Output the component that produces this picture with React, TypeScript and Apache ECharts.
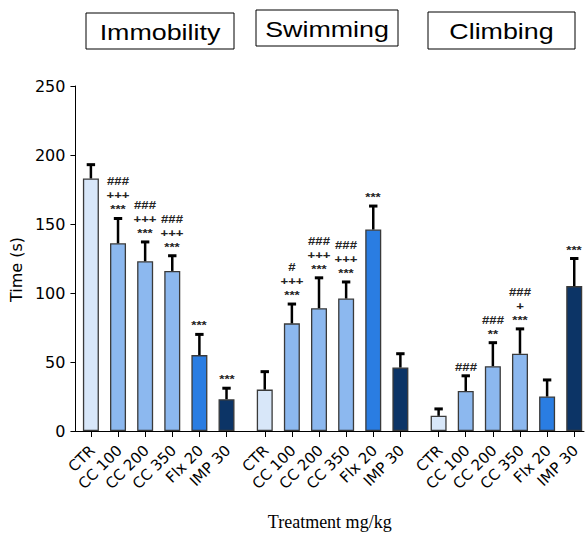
import React, { useEffect, useRef } from "react";
import * as echarts from "echarts";

// ---- data ----
const categories = ["CTR", "CC 100", "CC 200", "CC 350", "Flx 20", "IMP 30"];
const tests = ["Immobility", "Swimming", "Climbing"];

const immobility = [183, 136, 123, 116, 55, 23];
const immobilityErr = [10, 18, 14, 11, 15, 8];
const immobilitySig = [[], ["###", "+++", "***"], ["###", "+++", "***"], ["###", "+++", "***"], ["***"], ["***"]];

const swimming = [30, 78, 89, 96, 146, 46];
const swimmingErr = [13, 14, 22, 12, 17, 10];
const swimmingSig = [[], ["#", "+++", "***"], ["###", "+++", "***"], ["###", "+++", "***"], ["***"], []];

const climbing = [11, 29, 47, 56, 25, 105];
const climbingErr = [5, 11, 17, 18, 12, 20];
const climbingSig = [[], ["###"], ["###", "**"], ["###", "+", "***"], [], ["***"]];

const yTickMin = 0;
const yTickMax = 250;
const yTickStep = 50;

// ---- styling ----
const barColors = ["#d8e7f9", "#8cb8ef", "#8cb8ef", "#8cb8ef", "#2a7de2", "#0c3466"];
const GROUP_STEP = 6.41;
const LABEL_SHIFT = 0.05;

const groupValues = [immobility, swimming, climbing];
const groupErrs = [immobilityErr, swimmingErr, climbingErr];
const groupSigs = [immobilitySig, swimmingSig, climbingSig];

const positions: number[] = [];
const barData: any[] = [];
const errData: number[][] = [];
const sigs: string[][] = [];
groupValues.forEach((vals, g) => {
  vals.forEach((v, i) => {
    const x = i + g * GROUP_STEP;
    positions.push(x);
    barData.push({ value: [x, v], itemStyle: { color: barColors[i] } });
    errData.push([x, v, groupErrs[g][i], sigs.length]);
    sigs.push(groupSigs[g][i]);
  });
});
const labelPositions = positions.map((p) => p + LABEL_SHIFT);

const labelFor = (v: number) => {
  const idx = labelPositions.findIndex((p) => Math.abs(p - v) < 0.01);
  return idx >= 0 ? categories[idx % categories.length] : "";
};

const headerBoxes = [
  { x: 86, y: 13, w: 148, h: 36 },
  { x: 256, y: 10, w: 142, h: 36 },
  { x: 428, y: 12, w: 147, h: 37 },
];

export default function App() {
  const ref = useRef<HTMLDivElement>(null);
  useEffect(() => {
    if (!ref.current) return;
    const chart = echarts.init(ref.current, undefined, { renderer: "svg" });
    const graphics: any[] = [];
    tests.forEach((t, k) => {
      const b = headerBoxes[k];
      graphics.push({
        type: "rect",
        shape: { x: b.x, y: b.y, width: b.w, height: b.h },
        style: { fill: "#fff", stroke: "#000", lineWidth: 1 },
      });
      graphics.push({
        type: "text",
        x: b.x + b.w / 2,
        y: b.y + b.h / 2 + 1,
        scaleX: 1.22,
        style: {
          text: t,
          x: 0,
          y: 0,
          align: "center",
          verticalAlign: "middle",
          fontSize: 22,
          fontFamily: "Liberation Sans",
          fill: "#000",
        },
      });
    });

    chart.setOption({
      animation: false,
      backgroundColor: "#fff",
      grid: { left: 72, right: 3, top: 86, bottom: 107 },
      graphic: graphics,
      xAxis: {
        type: "value",
        min: -0.57,
        max: 18.18,
        splitLine: { show: false },
        axisLine: { show: true, onZero: false, lineStyle: { color: "#000", width: 1 } },
        axisTick: { show: true, length: 6, customValues: positions, lineStyle: { color: "#000", width: 1 } },
        axisLabel: {
          customValues: labelPositions,
          formatter: (v: number) => labelFor(v),
          rotate: 45,
          margin: 17,
          fontSize: 15,
          fontFamily: "DejaVu Sans",
          color: "#000",
        },
        name: "Treatment mg/kg",
        nameLocation: "middle",
        nameGap: 82,
        nameTextStyle: { fontFamily: "Liberation Serif", fontSize: 18, color: "#000" },
      },
      yAxis: {
        type: "value",
        min: yTickMin,
        max: yTickMax,
        interval: yTickStep,
        splitLine: { show: false },
        axisLine: { show: true, onZero: false, lineStyle: { color: "#000", width: 1 } },
        axisTick: { show: true, length: 5, lineStyle: { color: "#000", width: 1 } },
        axisLabel: { fontSize: 16, fontFamily: "DejaVu Sans", color: "#000", margin: 10 },
        name: "Time (s)",
        nameLocation: "middle",
        nameGap: 43,
        nameTextStyle: { fontFamily: "DejaVu Sans", fontSize: 16, color: "#000", padding: [0, 22, 0, 0] },
      },
      series: [
        {
          type: "bar",
          data: barData,
          barWidth: 16,
          itemStyle: { borderColor: "#3a3a3a", borderWidth: 1.3 },
        },
        {
          type: "custom",
          data: errData,
          z: 3,
          renderItem: (params: any, api: any) => {
            const x = api.value(0);
            const y = api.value(1);
            const e = api.value(2);
            const idx = api.value(3);
            const top = api.coord([x, y]);
            const cap = api.coord([x, y + e]);
            const children: any[] = [
              {
                type: "line",
                shape: { x1: top[0], y1: top[1], x2: cap[0], y2: cap[1] },
                style: { stroke: "#000", lineWidth: 2.5 },
              },
              {
                type: "line",
                shape: { x1: cap[0] - 4.2, y1: cap[1], x2: cap[0] + 4.2, y2: cap[1] },
                style: { stroke: "#000", lineWidth: 3 },
              },
            ];
            const lines = sigs[idx] || [];
            const n = lines.length;
            lines.forEach((s, k) => {
              children.push({
                type: "text",
                x: Math.round(cap[0]),
                y: Math.round(cap[1] - 3 - (n - 1 - k) * 14),
                scaleX: 1.2,
                style: {
                  text: s,
                  x: 0,
                  y: 0,
                  align: "center",
                  verticalAlign: "bottom",
                  fontSize: 11,
                  fontWeight: "bold",
                  fontFamily: "Liberation Sans",
                  fill: "#222",
                },
              });
            });
            return { type: "group", children };
          },
        },
      ],
    });
    return () => chart.dispose();
  }, []);
  return (
    <div
      ref={ref}
      style={{ position: "fixed", left: 0, top: 0, width: 587, height: 538, background: "#fff" }}
    />
  );
}
